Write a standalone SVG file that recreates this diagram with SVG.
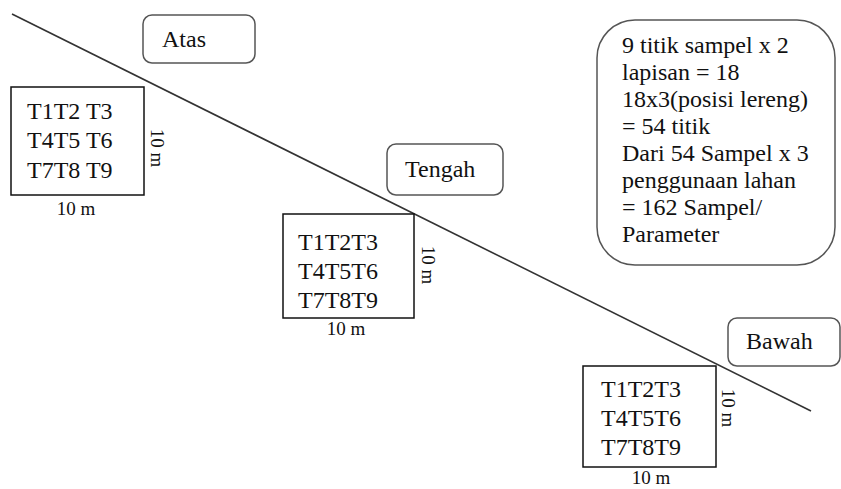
<svg xmlns="http://www.w3.org/2000/svg" width="841" height="489" viewBox="0 0 841 489">
<style>
  text { font-family: "Liberation Serif", "Times New Roman", serif; fill: #111; }
  .t { font-size: 24px; }
  .s { font-size: 19px; }
  .plot { fill: #fff; stroke: #111; stroke-width: 1.5; }
  .lbl { fill: #fff; stroke: #555; stroke-width: 1.5; }
</style>
<rect width="841" height="489" fill="#fff"/>
<g id="connectors">
  <line x1="12" y1="14" x2="811" y2="411" stroke="#333" stroke-width="1.6"/>
</g>
<g id="atas">
  <rect class="lbl" x="143" y="15" width="112" height="48" rx="9"/>
  <text class="t" x="162" y="47">Atas</text>
</g>
<g id="tengah">
  <rect class="lbl" x="387" y="144" width="116" height="51" rx="9"/>
  <text class="t" x="405" y="177">Tengah</text>
</g>
<g id="bawah">
  <rect class="lbl" x="728" y="318" width="112" height="48" rx="9"/>
  <text class="t" x="746" y="349">Bawah</text>
</g>
<g id="plot1">
  <rect class="plot" x="11" y="87" width="133" height="108"/>
  <text class="t" x="27" y="119">T1T2 T3</text>
  <text class="t" x="27" y="148">T4T5 T6</text>
  <text class="t" x="27" y="178">T7T8 T9</text>
  <text class="s" x="76" y="215" text-anchor="middle">10 m</text>
  <text class="s" transform="translate(151,148) rotate(90)" text-anchor="middle">10 m</text>
</g>
<g id="plot2">
  <rect class="plot" x="283" y="214" width="131" height="104"/>
  <text class="t" x="298" y="250">T1T2T3</text>
  <text class="t" x="298" y="279">T4T5T6</text>
  <text class="t" x="298" y="308">T7T8T9</text>
  <text class="s" x="346" y="335" text-anchor="middle">10 m</text>
  <text class="s" transform="translate(422,265) rotate(90)" text-anchor="middle">10 m</text>
</g>
<g id="plot3">
  <rect class="plot" x="583" y="366" width="133" height="101"/>
  <text class="t" x="601" y="397">T1T2T3</text>
  <text class="t" x="601" y="426">T4T5T6</text>
  <text class="t" x="601" y="455">T7T8T9</text>
  <text class="s" x="651" y="484" text-anchor="middle">10 m</text>
  <text class="s" transform="translate(722,408) rotate(90)" text-anchor="middle">10 m</text>
</g>
<g id="note">
  <rect class="lbl" x="597" y="20" width="238" height="245" rx="38"/>
  <text class="t" x="622" y="53">9 titik sampel x 2</text>
  <text class="t" x="622" y="80">lapisan = 18</text>
  <text class="t" x="622" y="107">18x3(posisi lereng)</text>
  <text class="t" x="622" y="134">= 54 titik</text>
  <text class="t" x="622" y="161">Dari 54 Sampel x 3</text>
  <text class="t" x="622" y="188">penggunaan lahan</text>
  <text class="t" x="622" y="215">= 162 Sampel/</text>
  <text class="t" x="622" y="242">Parameter</text>
</g>
</svg>
